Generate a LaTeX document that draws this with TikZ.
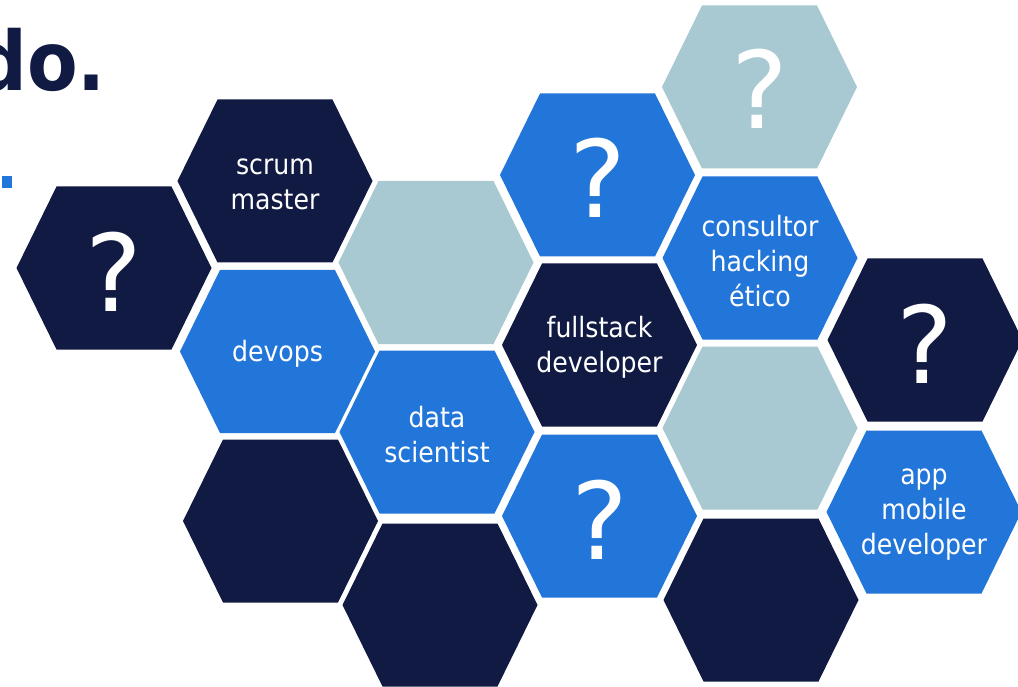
\documentclass[tikz,border=0pt]{standalone}
\usepackage{fontspec}
\newfontfamily\hexfont{DejaVu Sans Condensed}
\newfontfamily\qfont{DejaVu Sans}
\definecolor{navy}{HTML}{111A43}
\definecolor{azul}{HTML}{2376D9}
\definecolor{gris}{HTML}{A8C9D1}
\begin{document}
\begin{tikzpicture}[x=1pt,y=-1pt,
  hexa/.pic={\fill[#1] (-97.5,0) -- (-57.5,-81.5) -- (57.5,-81.5) -- (97.5,0) -- (57.5,81.5) -- (-57.5,81.5) -- cycle;},
  lbl/.style={text=white, font=\hexfont\fontsize{28}{35}\selectfont, align=center, inner sep=0pt},
  qm/.style={text=white, font=\qfont\fontsize{107}{107}\selectfont, anchor=base, inner sep=0pt},
  ttl/.style={text=navy, font=\hexfont\bfseries\fontsize{82}{82}\selectfont, anchor=base east, inner sep=0pt}]
\useasboundingbox (0,0) rectangle (1018,687);
\clip (0,0) rectangle (1018,687);
\fill[white] (0,0) rectangle (1018,687);
% title fragment
\node[ttl] (title) at (106,91) {do.};
\fill[azul] (2,176) rectangle (12,188);
% hexagons
\pic at (114,268) {hexa=navy};
\pic at (275,181) {hexa=navy};
\pic at (277.5,351.5) {hexa=azul};
\pic at (280.5,521) {hexa=navy};
\pic at (436,262.5) {hexa=gris};
\pic at (437,432) {hexa=azul};
\pic at (440,605) {hexa=navy};
\pic at (597.5,175) {hexa=azul};
\pic at (599.5,345) {hexa=navy};
\pic at (599.5,516) {hexa=azul};
\pic at (759.5,87) {hexa=gris};
\pic at (760,258) {hexa=azul};
\pic at (760,428) {hexa=gris};
\pic at (761,600) {hexa=navy};
\pic at (925,340) {hexa=navy};
\pic at (924,512) {hexa=azul};
% labels
\node[qm] (q1) at (114,312) {?};
\node[lbl] (t2) at (275,184) {scrum\\master};
\node[lbl] (t3) at (277.5,354) {devops};
\node[lbl] (t6) at (437,435) {data\\scientist};
\node[qm] (q8) at (597.5,218) {?};
\node[lbl] (t9) at (599.5,347) {fullstack\\developer};
\node[qm] (q10) at (599.5,559) {?};
\node[qm] (q11) at (759.5,129) {?};
\node[lbl] (t12) at (760,261) {consultor\\hacking\\ético};
\node[qm] (q15) at (925,383) {?};
\node[lbl] (t16) at (924,515) {app\\mobile\\developer};
\end{tikzpicture}
\end{document}
